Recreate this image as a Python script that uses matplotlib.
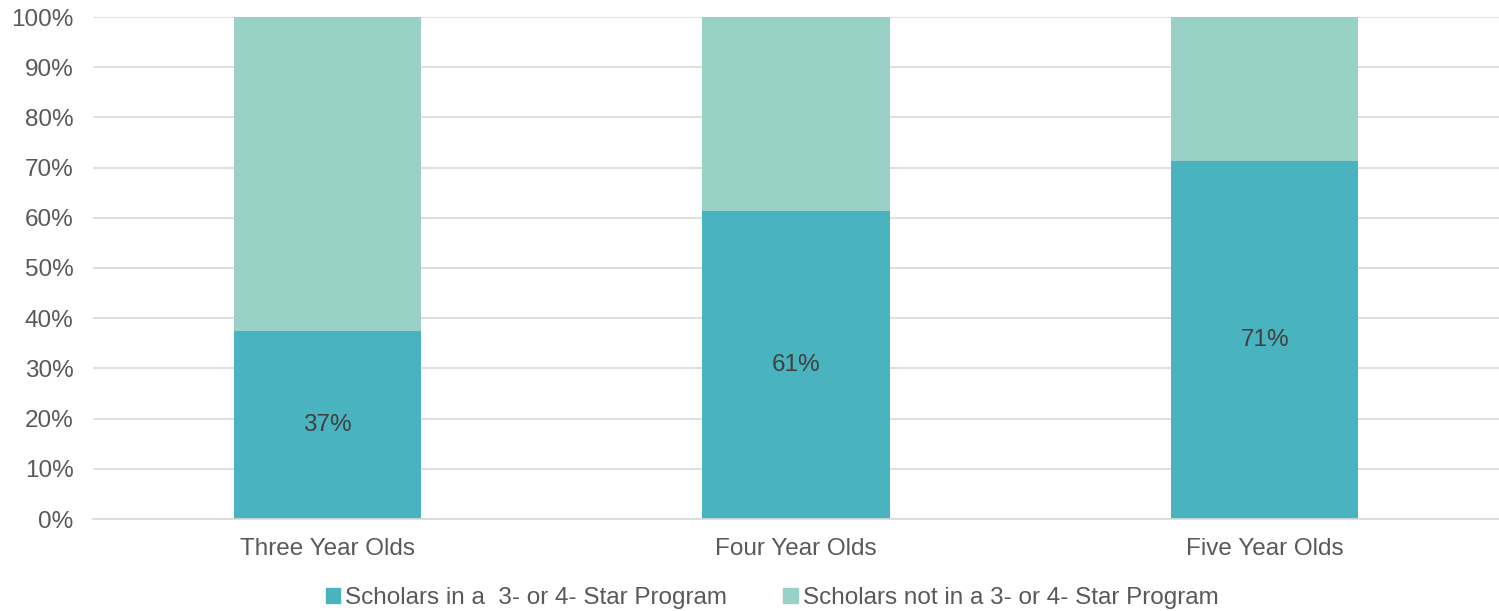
import matplotlib.pyplot as plt
from matplotlib.patches import Patch
import numpy as np

categories = ["Three Year Olds", "Four Year Olds", "Five Year Olds"]
in_program = [0.374, 0.613, 0.714]
not_in_program = [1 - v for v in in_program]
series_names = ["Scholars in a  3- or 4- Star Program",
                "Scholars not in a 3- or 4- Star Program"]

dark = "#4AB3C0"
light = "#9AD1C7"
text_col = "#595959"

plt.rcParams['font.family'] = ['Liberation Sans', 'DejaVu Sans']

fig = plt.figure(figsize=(14.99, 6.11), dpi=100)
ax = fig.add_axes([93 / 1499, 1 - 519 / 611, 1 - 93 / 1499, (519 - 17) / 611])

x = np.arange(len(categories))
ax.bar(x, in_program, width=0.4, color=dark, zorder=2)
ax.bar(x, not_in_program, bottom=in_program, width=0.4, color=light, zorder=2)

for xi, v in zip(x, in_program):
    ax.text(xi, v / 2, f"{round(v * 100):.0f}%", ha="center", va="center",
            fontsize=17.5, color="#404040")

ax.set_xlim(-0.5, 2.5)
ax.set_ylim(0, 1)
ticks = np.arange(0, 1.01, 0.1)
ax.set_yticks(ticks)
ax.set_yticklabels([f"{int(round(t * 100))}%" for t in ticks])
ax.set_xticks(x)
ax.set_xticklabels(categories)
ax.tick_params(axis="both", length=0, labelsize=17.5, colors=text_col)
ax.tick_params(axis="x", pad=14)
ax.tick_params(axis="y", pad=14)
ax.grid(axis="y", color="#D9D9D9", linewidth=1.2, zorder=0)
for s in ["top", "right", "left"]:
    ax.spines[s].set_visible(False)
ax.spines["bottom"].set_color("#D9D9D9")
ax.spines["bottom"].set_linewidth(1.2)

handles = [Patch(color=dark), Patch(color=light)]
fig.legend(handles, series_names, loc="lower center", bbox_to_anchor=(0.515, -0.033),
           ncol=2, frameon=False, fontsize=17.5, labelcolor=text_col,
           handlelength=0.6, handleheight=0.6, handletextpad=0.2, columnspacing=2.3)

fig.savefig("out.png", dpi=100)
